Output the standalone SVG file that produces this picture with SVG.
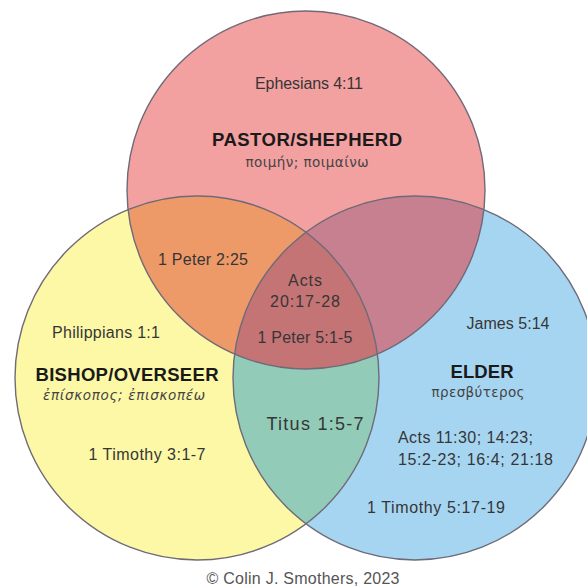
<svg xmlns="http://www.w3.org/2000/svg" width="587" height="588" viewBox="0 0 587 588">
  <style>
    .ref { font-family: "Liberation Sans", Arial, sans-serif; font-size: 16px; fill: #363636; text-anchor: middle; }
    .left { text-anchor: start; }
    .big { font-size: 18px; }
    .credit { fill: #555; }
    .title { font-family: "Liberation Sans", Arial, sans-serif; font-size: 18.5px; font-weight: bold; fill: #1a1a1a; text-anchor: middle; }
    .greek { font-family: "DejaVu Sans", "Liberation Sans", sans-serif; font-size: 13.5px; fill: #444; text-anchor: middle; }
    .edge { fill: none; stroke: #6f6a78; stroke-width: 1.4; }
  </style>
  <defs>
    <circle id="cA" cx="306" cy="190" r="179"/>
    <circle id="cB" cx="197" cy="378" r="182"/>
    <circle id="cC" cx="415" cy="378" r="182"/>
    <clipPath id="clipA"><use href="#cA"/></clipPath>
    <clipPath id="clipB"><use href="#cB"/></clipPath>
    <clipPath id="clipC"><use href="#cC"/></clipPath>
  </defs>
  <rect width="587" height="588" fill="#ffffff"/>

  <g id="fills">
    <use href="#cB" fill="#fcf8a6"/>
    <use href="#cC" fill="#a6d5f2"/>
    <use href="#cA" fill="#f3a0a0"/>
    <use href="#cA" fill="#ee9a68" clip-path="url(#clipB)"/>
    <use href="#cA" fill="#c78090" clip-path="url(#clipC)"/>
    <use href="#cB" fill="#92ccb8" clip-path="url(#clipC)"/>
    <g clip-path="url(#clipC)"><use href="#cA" fill="#c47474" clip-path="url(#clipB)"/></g>
  </g>

  <g id="outlines">
    <use href="#cA" class="edge"/>
    <use href="#cB" class="edge"/>
    <use href="#cC" class="edge"/>
  </g>

  <g id="pastor">
    <text class="ref" x="309" y="89" textLength="108">Ephesians 4:11</text>
    <text class="title" x="307" y="146" textLength="190">PASTOR/SHEPHERD</text>
    <text class="greek" x="307" y="167" textLength="123">ποιμήν; ποιμαίνω</text>
  </g>

  <g id="bishop">
    <text class="ref" x="106" y="338" textLength="108">Philippians 1:1</text>
    <text class="title" x="127" y="381" textLength="183">BISHOP/OVERSEER</text>
    <text class="greek" x="124" y="400" font-style="italic" textLength="162">ἐπίσκοπος; ἐπισκοπέω</text>
    <text class="ref" x="147" y="460" textLength="117">1 Timothy 3:1-7</text>
  </g>

  <g id="elder">
    <text class="ref" x="508" y="329" textLength="83">James 5:14</text>
    <text class="title" x="482" y="378" textLength="63">ELDER</text>
    <text class="greek" x="478" y="397" textLength="93">πρεσβύτερος</text>
    <text class="ref left" x="398" y="443" textLength="135">Acts 11:30; 14:23;</text>
    <text class="ref left" x="398" y="465" textLength="155">15:2-23; 16:4; 21:18</text>
    <text class="ref" x="436" y="513" textLength="138">1 Timothy 5:17-19</text>
  </g>

  <g id="pastor-bishop">
    <text class="ref" x="203" y="265" textLength="90">1 Peter 2:25</text>
  </g>

  <g id="all-three">
    <text class="ref" x="305" y="286" textLength="34">Acts</text>
    <text class="ref" x="305" y="307" textLength="70">20:17-28</text>
    <text class="ref" x="305" y="343" textLength="95">1 Peter 5:1-5</text>
  </g>

  <g id="bishop-elder">
    <text class="ref big" x="315" y="430" textLength="97">Titus 1:5-7</text>
  </g>

  <g id="credit">
    <text class="ref credit" x="303" y="584" textLength="193">© Colin J. Smothers, 2023</text>
  </g>
</svg>
